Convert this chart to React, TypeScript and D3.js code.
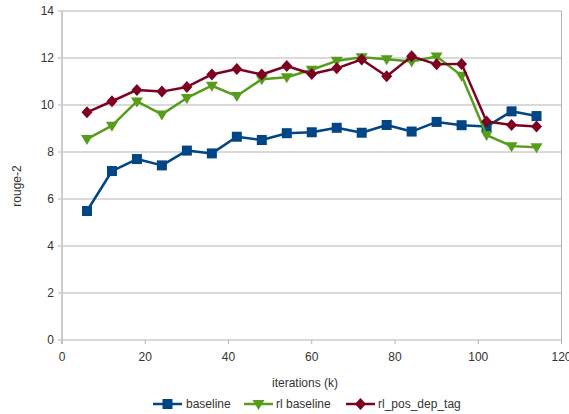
import React from "react";
import * as d3 from "d3";

const iterations = [6, 12, 18, 24, 30, 36, 42, 48, 54, 60, 66, 72, 78, 84, 90, 96, 102, 108, 114];
const baseline = [5.49, 7.19, 7.7, 7.43, 8.06, 7.94, 8.65, 8.51, 8.8, 8.84, 9.03, 8.82, 9.15, 8.87, 9.28, 9.14, 9.08, 9.73, 9.53];
const rlBaseline = [8.55, 9.12, 10.15, 9.6, 10.3, 10.82, 10.38, 11.1, 11.18, 11.5, 11.88, 12.03, 11.95, 11.85, 12.06, 11.25, 8.72, 8.25, 8.2];
const rlPosDepTag = [9.69, 10.16, 10.64, 10.57, 10.77, 11.3, 11.53, 11.3, 11.66, 11.32, 11.56, 11.94, 11.22, 12.07, 11.73, 11.75, 9.3, 9.15, 9.08];
const xTicks = [0, 20, 40, 60, 80, 100, 120];
const yTicks = [0, 2, 4, 6, 8, 10, 12, 14];
const seriesNames = ["baseline", "rl baseline", "rl_pos_dep_tag"];
const seriesColors = ["#004586", "#579d1c", "#7e0021"];
const seriesShapes = ["square", "triangle", "diamond"];

const W = 569, H = 414;
const left = 62, right = 561.5, top = 11, bottom = 340;

function Marker({ shape, cx, cy, color }: { shape: string; cx: number; cy: number; color: string }) {
  if (shape === "square") return <rect x={cx - 5} y={cy - 5} width={10} height={10} fill={color} />;
  if (shape === "triangle") {
    const p = `${cx - 6},${cy - 4} ${cx + 6},${cy - 4} ${cx},${cy + 6}`;
    return <polygon points={p} fill={color} />;
  }
  const p = `${cx},${cy - 6} ${cx + 5.5},${cy} ${cx},${cy + 6} ${cx - 5.5},${cy}`;
  return <polygon points={p} fill={color} />;
}

export default function App() {
  const x = d3.scaleLinear().domain([0, 120]).range([left, right]);
  const y = d3.scaleLinear().domain([0, 14]).range([bottom, top]);
  const line = d3.line<number>().x((_, i) => x(iterations[i])).y((d) => y(d));
  const all = [baseline, rlBaseline, rlPosDepTag];
  const font = "'Liberation Sans', Arial, sans-serif";
  const legendItems = [
    { lx: 153, tx: 186 },
    { lx: 244, tx: 276 },
    { lx: 346, tx: 378 },
  ];
  return (
    <svg width={W} height={H} style={{ position: "absolute", left: 0, top: 0, background: "#fff" }} fontFamily={font}>
      {yTicks.map((t) => (
        <g key={t}>
          {t > 0 && <line x1={left} x2={right} y1={y(t)} y2={y(t)} stroke="#b3b3b3" strokeWidth={1} />}
          <line x1={left - 4} x2={left} y1={y(t)} y2={y(t)} stroke="#b3b3b3" />
          <text x={left - 8} y={y(t)} dy="0.35em" textAnchor="end" fontSize={12} fill="#333">{t}</text>
        </g>
      ))}
      <line x1={right} x2={right} y1={top} y2={bottom} stroke="#b3b3b3" />
      <line x1={left} x2={right} y1={bottom} y2={bottom} stroke="#b3b3b3" />
      <line x1={left} x2={left} y1={top} y2={bottom + 4} stroke="#ccc" strokeWidth={2} />
      {xTicks.map((t) => (
        <g key={t}>
          <line x1={x(t)} x2={x(t)} y1={bottom} y2={bottom + 4} stroke="#b3b3b3" />
          <text x={x(t)} y={bottom + 17} dy="0.35em" textAnchor="middle" fontSize={12} fill="#333">{t}</text>
        </g>
      ))}
      <text x={305} y={383} dy="0.35em" textAnchor="middle" fontSize={12} fill="#333">iterations (k)</text>
      <text transform={`translate(17,186) rotate(-90)`} textAnchor="middle" dy="0.35em" fontSize={12} fill="#333">rouge-2</text>
      {all.map((s, si) => (
        <g key={si}>
          <path d={line(s) || ""} fill="none" stroke={seriesColors[si]} strokeWidth={2.5} strokeLinejoin="round" />
          {s.map((v, i) => (
            <Marker key={i} shape={seriesShapes[si]} cx={x(iterations[i])} cy={y(v)} color={seriesColors[si]} />
          ))}
        </g>
      ))}
      {legendItems.map((li, si) => (
        <g key={si}>
          <line x1={li.lx} x2={li.lx + 29} y1={404} y2={404} stroke={seriesColors[si]} strokeWidth={2.5} />
          <Marker shape={seriesShapes[si]} cx={li.lx + 14.5} cy={404} color={seriesColors[si]} />
          <text x={li.tx} y={404} dy="0.35em" fontSize={12} fill="#333">{seriesNames[si]}</text>
        </g>
      ))}
    </svg>
  );
}
